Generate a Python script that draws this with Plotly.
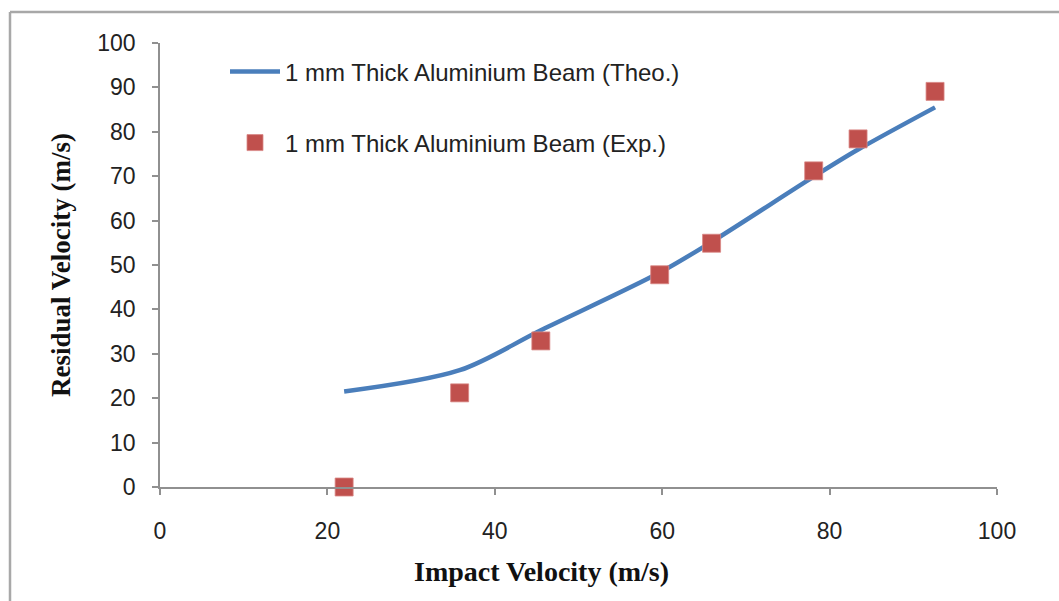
import plotly.graph_objects as go

impact_velocity = [22.0, 35.8, 45.5, 59.7, 65.9, 78.1, 83.4, 92.6]
theo_residual = [21.5, 26.3, 35.3, 48.3, 55.2, 69.9, 76.0, 85.5]
exp_residual = [0.0, 21.2, 32.9, 47.8, 54.9, 71.2, 78.4, 89.1]

x_ticks = [0, 20, 40, 60, 80, 100]
y_ticks = [0, 10, 20, 30, 40, 50, 60, 70, 80, 90, 100]

theo_name = "1 mm Thick Aluminium Beam (Theo.)"
exp_name = "1 mm Thick Aluminium Beam (Exp.)"
x_title = "Impact Velocity (m/s)"
y_title = "Residual Velocity (m/s)"

W, H = 1059, 601
L, R, T, B = 160, 62, 43, 114
pw, ph = W - L - R, H - T - B

def px_x(p):
    return (p - L) / pw

def px_y(p):
    return (H - B - p) / ph

fig = go.Figure()
fig.add_trace(go.Scatter(
    x=impact_velocity, y=theo_residual, mode="lines", name=theo_name,
    line=dict(color="#4A7EBB", width=4.5, shape="spline", smoothing=0.9),
    legend="legend", cliponaxis=False,
))
fig.add_trace(go.Scatter(
    x=impact_velocity, y=exp_residual, mode="markers", name=exp_name,
    marker=dict(symbol="square", size=18, color="#C0504D",
                line=dict(color="#D98885", width=0.8)),
    legend="legend2", cliponaxis=False,
))

legend_font = dict(family="Liberation Sans", size=24, color="#222222")
fig.update_layout(
    width=W, height=H,
    margin=dict(l=L, r=R, t=T, b=B),
    paper_bgcolor="white", plot_bgcolor="white",
    showlegend=True,
    legend=dict(x=px_x(225), y=px_y(72), xanchor="left", yanchor="middle",
                font=legend_font, itemwidth=50, bgcolor="rgba(0,0,0,0)"),
    legend2=dict(x=px_x(225), y=px_y(143), xanchor="left", yanchor="middle",
                 font=legend_font, itemwidth=50, bgcolor="rgba(0,0,0,0)"),
    xaxis=dict(
        range=[0, 100], tickvals=x_ticks, ticktext=[str(v) for v in x_ticks],
        showgrid=False, zeroline=False, showline=True,
        linecolor="#909090", linewidth=1.5,
        ticks="outside", ticklen=6, tickcolor="#909090", tickwidth=1.5,
        tickfont=dict(family="Liberation Sans", size=23, color="#222222"),
        ticklabelstandoff=17,
    ),
    yaxis=dict(
        range=[0, 100], tickvals=y_ticks, ticktext=[str(v) for v in y_ticks],
        showgrid=False, zeroline=False, showline=True,
        linecolor="#909090", linewidth=1.5,
        ticks="outside", ticklen=6, tickcolor="#909090", tickwidth=1.5,
        tickfont=dict(family="Liberation Sans", size=23, color="#222222"),
        ticklabelstandoff=12,
        title=dict(text="<b>" + y_title + "</b>", standoff=19,
                   font=dict(family="Liberation Serif", size=27, color="#111111")),
    ),
    annotations=[
        dict(text="<b>" + x_title + "</b>", xref="paper", yref="paper",
             x=px_x(541), y=px_y(571), xanchor="center", yanchor="middle",
             showarrow=False,
             font=dict(family="Liberation Serif", size=28, color="#111111")),
    ],
    shapes=[
        dict(type="line", xref="paper", yref="paper",
             x0=px_x(10), y0=px_y(12), x1=px_x(10), y1=px_y(620),
             line=dict(color="#A8A8A8", width=2.5)),
        dict(type="line", xref="paper", yref="paper",
             x0=px_x(10), y0=px_y(12), x1=px_x(1080), y1=px_y(12),
             line=dict(color="#A8A8A8", width=2.5)),
    ],
)

fig.write_html("out.html")
